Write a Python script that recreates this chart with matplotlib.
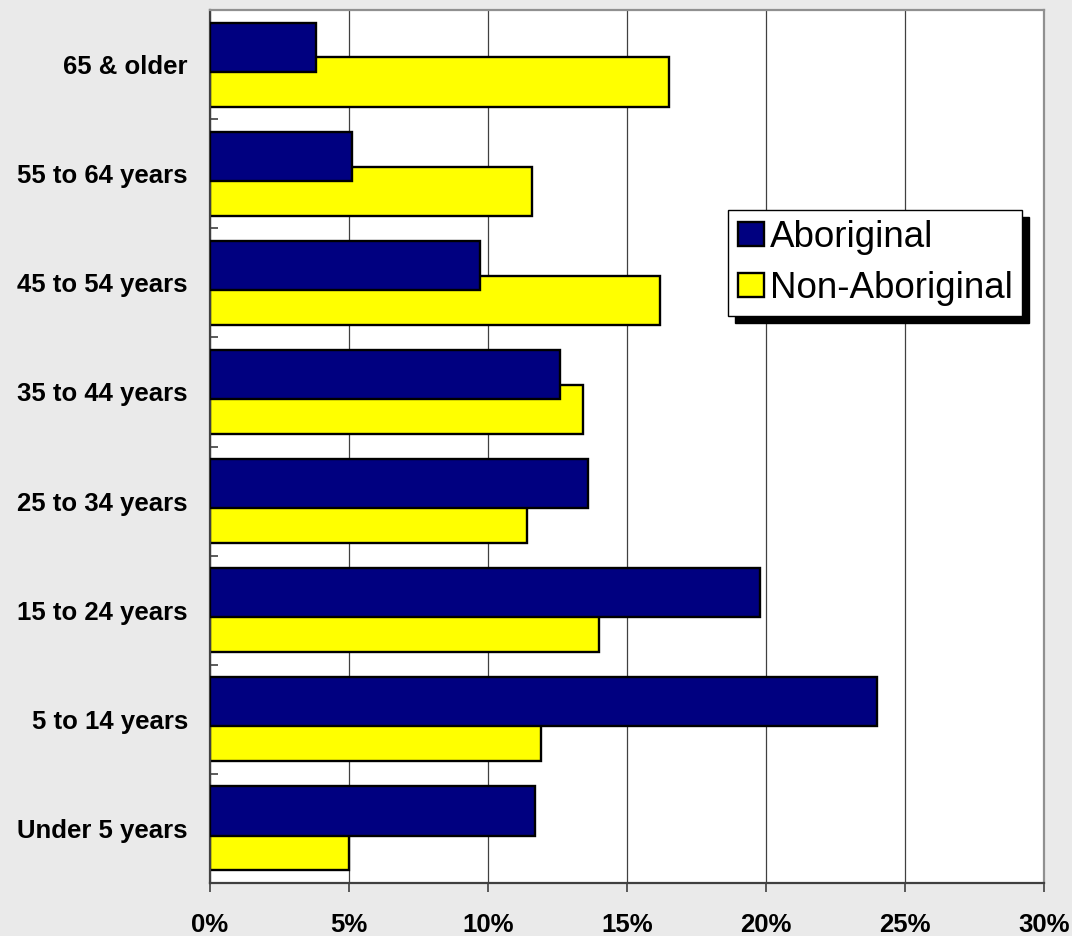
import numpy as np
import matplotlib
matplotlib.use("Agg")
import matplotlib.pyplot as plt
from matplotlib.ticker import FixedLocator

plt.rcParams['font.family'] = ['Liberation Sans', 'DejaVu Sans']

# age groups, bottom to top
age_groups = ['Under 5 years', '5 to 14 years', '15 to 24 years', '25 to 34 years',
              '35 to 44 years', '45 to 54 years', '55 to 64 years', '65 & older']
aboriginal = [11.7, 24.0, 19.8, 13.6, 12.6, 9.7, 5.1, 3.8]
non_aboriginal = [5.0, 11.9, 14.0, 11.4, 13.4, 16.2, 11.6, 16.5]
x_ticks = [0, 5, 10, 15, 20, 25, 30]
x_tick_labels = ['0%', '5%', '10%', '15%', '20%', '25%', '30%']

bg = '#EAEAEA'
fig = plt.figure(figsize=(10.72, 9.36), dpi=100, facecolor=bg)
ax = fig.add_axes([210 / 1072, 53 / 936, 834 / 1072, 873 / 936])
ax.set_facecolor('white')

y = np.arange(len(age_groups))
bar_h = 0.45
off = 0.16
ax.barh(y - off, non_aboriginal, height=bar_h, color='#FFFF00', edgecolor='black',
        linewidth=1.7, zorder=2, label='Non-Aboriginal')
ax.barh(y + off, aboriginal, height=bar_h, color='#000080', edgecolor='black',
        linewidth=1.7, zorder=3, label='Aboriginal')

ax.set_xlim(0, 30)
ax.set_ylim(-0.5, len(age_groups) - 0.5)

# vertical gridlines
ax.set_axisbelow(True)
ax.xaxis.grid(True, color='#404040', linewidth=0.9)
ax.yaxis.grid(False)

ax.set_xticks(x_ticks)
ax.set_xticklabels(x_tick_labels, fontsize=18.5, fontweight='bold')
ax.tick_params(axis='x', direction='out', length=6.5, width=1.2, color='#404040', pad=15)

ax.set_yticks(y)
ax.set_yticklabels(age_groups, fontsize=18.5, fontweight='bold')
ax.tick_params(axis='y', which='major', length=0, pad=16)
ax.yaxis.set_minor_locator(FixedLocator(np.arange(-0.5, len(age_groups), 1.0)))
ax.tick_params(axis='y', which='minor', direction='in', length=6, width=1.2, color='#404040')

for side in ['left', 'bottom']:
    ax.spines[side].set_color('#404040')
    ax.spines[side].set_linewidth(1.6)
for side in ['top', 'right']:
    ax.spines[side].set_color('#909090')
    ax.spines[side].set_linewidth(1.6)

handles, labels = ax.get_legend_handles_labels()
leg = ax.legend(handles[::-1], labels[::-1], loc='upper left',
                bbox_to_anchor=(728 / 1072, 726 / 936), bbox_transform=fig.transFigure,
                fontsize=26.5, frameon=True, fancybox=False, framealpha=1,
                edgecolor='black', borderpad=0.26, borderaxespad=0,
                handlelength=0.73, handleheight=0.63, handletextpad=0.15,
                labelspacing=0.45,
                shadow={'ox': 5, 'oy': -5, 'facecolor': 'black',
                        'edgecolor': 'black', 'alpha': 1})
leg.get_frame().set_linewidth(1.0)
leg.set_zorder(10)

fig.savefig('out.png', dpi=100, facecolor=bg)
